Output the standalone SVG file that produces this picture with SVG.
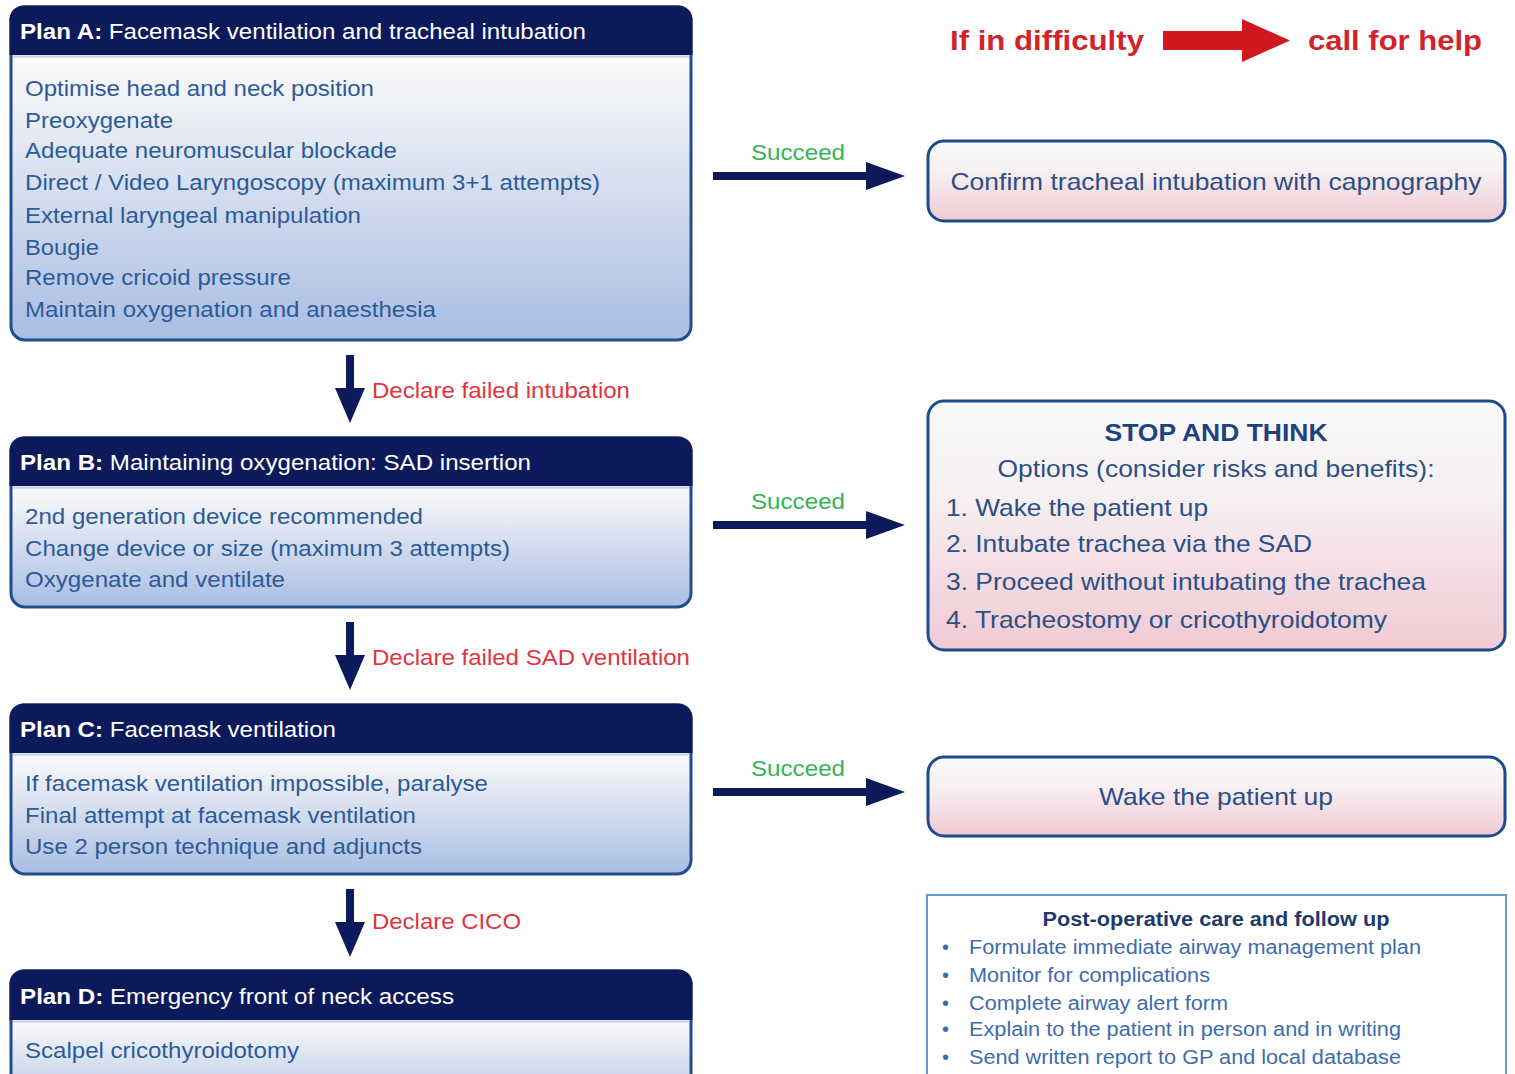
<svg xmlns="http://www.w3.org/2000/svg" width="1515" height="1074" viewBox="0 0 1515 1074">
<style>
text{font-family:"Liberation Sans",Arial,Helvetica,sans-serif}
.hdr{fill:#0c1a5b}
.outline{fill:none;stroke:#1f4e8c;stroke-width:3}
.sep{stroke:#c3d1e8;stroke-width:2}
.ht{fill:#ffffff;font-size:22px}
.ht tspan.b{font-weight:bold}
.bt{fill:#2c5b98;font-size:22px}
.rbox{fill:url(#pink);stroke:#1b4d8d;stroke-width:3}
.rt{fill:#2b4f86;font-size:24px}
.rtb{fill:#1e4280;font-size:24px;font-weight:bold}
.decl{fill:#e0353f;font-size:22px}
.succ{fill:#35b552;font-size:22px}
.navy{fill:#0c1a5b}
.help{fill:#d1232a;font-size:28px;font-weight:bold}
.pt{fill:#1d3a6d;font-size:20px;font-weight:bold}
.pi{fill:#3d6cae;font-size:20px}
</style>
<defs>
<linearGradient id="blue" x1="0" y1="0" x2="0" y2="1">
<stop offset="0" stop-color="#fafafa"/>
<stop offset="0.08" stop-color="#f5f6f8"/>
<stop offset="1" stop-color="#a9bde3"/>
</linearGradient>
<linearGradient id="blueD" x1="0" y1="0" x2="0" y2="1">
<stop offset="0" stop-color="#fafafa"/>
<stop offset="1" stop-color="#b9c9e8"/>
</linearGradient>
<linearGradient id="pink" x1="0" y1="0" x2="0" y2="1">
<stop offset="0" stop-color="#f9f9fa"/>
<stop offset="0.35" stop-color="#f7f1f3"/>
<stop offset="1" stop-color="#f1cad3"/>
</linearGradient>
</defs>

<g id="planA">
<path d="M11,55 H691 V326 A14,14 0 0 1 677,340 H25 A14,14 0 0 1 11,326 Z" fill="url(#blue)"/>
<rect class="outline" x="11" y="7" width="680" height="333" rx="14"/>
<path class="hdr" d="M9.5,55 V21 A14,14 0 0 1 23.5,5.5 H678.5 A14,14 0 0 1 692.5,21 V55 Z"/>
<line class="sep" x1="13" y1="56.5" x2="689" y2="56.5"/>
<text class="ht" x="20" y="39" textLength="566" lengthAdjust="spacingAndGlyphs"><tspan class="b">Plan A:</tspan> Facemask ventilation and tracheal intubation</text>
<text class="bt" x="25" y="96" textLength="349" lengthAdjust="spacingAndGlyphs">Optimise head and neck position</text>
<text class="bt" x="25" y="128" textLength="148" lengthAdjust="spacingAndGlyphs">Preoxygenate</text>
<text class="bt" x="25" y="158" textLength="372" lengthAdjust="spacingAndGlyphs">Adequate neuromuscular blockade</text>
<text class="bt" x="25" y="190" textLength="575" lengthAdjust="spacingAndGlyphs">Direct / Video Laryngoscopy (maximum 3+1 attempts)</text>
<text class="bt" x="25" y="223" textLength="336" lengthAdjust="spacingAndGlyphs">External laryngeal manipulation</text>
<text class="bt" x="25" y="255" textLength="74" lengthAdjust="spacingAndGlyphs">Bougie</text>
<text class="bt" x="25" y="285" textLength="266" lengthAdjust="spacingAndGlyphs">Remove cricoid pressure</text>
<text class="bt" x="25" y="317" textLength="411" lengthAdjust="spacingAndGlyphs">Maintain oxygenation and anaesthesia</text>
</g>

<g id="planB">
<path d="M11,486 H691 V593 A14,14 0 0 1 677,607 H25 A14,14 0 0 1 11,593 Z" fill="url(#blue)"/>
<rect class="outline" x="11" y="438" width="680" height="169" rx="14"/>
<path class="hdr" d="M9.5,486 V452 A14,14 0 0 1 23.5,436.5 H678.5 A14,14 0 0 1 692.5,452 V486 Z"/>
<line class="sep" x1="13" y1="487.5" x2="689" y2="487.5"/>
<text class="ht" x="20" y="470" textLength="511" lengthAdjust="spacingAndGlyphs"><tspan class="b">Plan B:</tspan> Maintaining oxygenation: SAD insertion</text>
<text class="bt" x="25" y="524" textLength="398" lengthAdjust="spacingAndGlyphs">2nd generation device recommended</text>
<text class="bt" x="25" y="556" textLength="485" lengthAdjust="spacingAndGlyphs">Change device or size (maximum 3 attempts)</text>
<text class="bt" x="25" y="587" textLength="260" lengthAdjust="spacingAndGlyphs">Oxygenate and ventilate</text>
</g>

<g id="planC">
<path d="M11,753 H691 V860 A14,14 0 0 1 677,874 H25 A14,14 0 0 1 11,860 Z" fill="url(#blue)"/>
<rect class="outline" x="11" y="705" width="680" height="169" rx="14"/>
<path class="hdr" d="M9.5,753 V719 A14,14 0 0 1 23.5,703.5 H678.5 A14,14 0 0 1 692.5,719 V753 Z"/>
<line class="sep" x1="13" y1="754.5" x2="689" y2="754.5"/>
<text class="ht" x="20" y="737" textLength="316" lengthAdjust="spacingAndGlyphs"><tspan class="b">Plan C:</tspan> Facemask ventilation</text>
<text class="bt" x="25" y="791" textLength="463" lengthAdjust="spacingAndGlyphs">If facemask ventilation impossible, paralyse</text>
<text class="bt" x="25" y="823" textLength="391" lengthAdjust="spacingAndGlyphs">Final attempt at facemask ventilation</text>
<text class="bt" x="25" y="854" textLength="397" lengthAdjust="spacingAndGlyphs">Use 2 person technique and adjuncts</text>
</g>

<g id="planD">
<path d="M11,1020 H691 V1100 H11 Z" fill="url(#blueD)"/>
<rect class="outline" x="11" y="971" width="680" height="140" rx="14"/>
<path class="hdr" d="M9.5,1020 V985 A14,14 0 0 1 23.5,969.5 H678.5 A14,14 0 0 1 692.5,985 V1020 Z"/>
<line class="sep" x1="13" y1="1021.5" x2="689" y2="1021.5"/>
<text class="ht" x="20" y="1004" textLength="434" lengthAdjust="spacingAndGlyphs"><tspan class="b">Plan D:</tspan> Emergency front of neck access</text>
<text class="bt" x="25" y="1058" textLength="274" lengthAdjust="spacingAndGlyphs">Scalpel cricothyroidotomy</text>
</g>

<g id="help">
<text class="help" x="950" y="50" textLength="194" lengthAdjust="spacingAndGlyphs">If in difficulty</text>
<polygon fill="#d0161e" points="1163,31 1242,31 1242,19 1290,40.5 1242,62 1242,50 1163,50"/>
<text class="help" x="1308" y="50" textLength="174" lengthAdjust="spacingAndGlyphs">call for help</text>
</g>

<g id="confirm">
<rect class="rbox" x="928" y="141" width="577" height="80" rx="16"/>
<text class="rt" x="1216" y="190" text-anchor="middle" textLength="531" lengthAdjust="spacingAndGlyphs">Confirm tracheal intubation with capnography</text>
</g>

<g id="stop">
<rect class="rbox" x="928" y="401" width="577" height="249" rx="16"/>
<text class="rtb" x="1216" y="441" text-anchor="middle" textLength="223" lengthAdjust="spacingAndGlyphs">STOP AND THINK</text>
<text class="rt" x="1216" y="477" text-anchor="middle" textLength="437" lengthAdjust="spacingAndGlyphs">Options (consider risks and benefits):</text>
<text class="rt" x="946" y="516" textLength="262" lengthAdjust="spacingAndGlyphs">1. Wake the patient up</text>
<text class="rt" x="946" y="552" textLength="366" lengthAdjust="spacingAndGlyphs">2. Intubate trachea via the SAD</text>
<text class="rt" x="946" y="590" textLength="480" lengthAdjust="spacingAndGlyphs">3. Proceed without intubating the trachea</text>
<text class="rt" x="946" y="628" textLength="441" lengthAdjust="spacingAndGlyphs">4. Tracheostomy or cricothyroidotomy</text>
</g>

<g id="wake">
<rect class="rbox" x="928" y="757" width="577" height="79" rx="16"/>
<text class="rt" x="1216" y="805" text-anchor="middle" textLength="234" lengthAdjust="spacingAndGlyphs">Wake the patient up</text>
</g>

<g id="postop">
<rect x="927" y="895" width="579" height="190" fill="#ffffff" stroke="#5f9bd3" stroke-width="2"/>
<text class="pt" x="1216" y="926" text-anchor="middle" textLength="347" lengthAdjust="spacingAndGlyphs">Post-operative care and follow up</text>
<text class="pi" x="942" y="954">•</text>
<text class="pi" x="969" y="954" textLength="452" lengthAdjust="spacingAndGlyphs">Formulate immediate airway management plan</text>
<text class="pi" x="942" y="982">•</text>
<text class="pi" x="969" y="982" textLength="241" lengthAdjust="spacingAndGlyphs">Monitor for complications</text>
<text class="pi" x="942" y="1010">•</text>
<text class="pi" x="969" y="1010" textLength="259" lengthAdjust="spacingAndGlyphs">Complete airway alert form</text>
<text class="pi" x="942" y="1036">•</text>
<text class="pi" x="969" y="1036" textLength="432" lengthAdjust="spacingAndGlyphs">Explain to the patient in person and in writing</text>
<text class="pi" x="942" y="1064">•</text>
<text class="pi" x="969" y="1064" textLength="432" lengthAdjust="spacingAndGlyphs">Send written report to GP and local database</text>
</g>

<g id="connectors">
<polygon class="navy" points="346,355 354,355 354,388 365,388 350,423 335,388 346,388"/>
<text class="decl" x="372" y="398" textLength="258" lengthAdjust="spacingAndGlyphs">Declare failed intubation</text>
<polygon class="navy" points="346,622 354,622 354,655 365,655 350,690 335,655 346,655"/>
<text class="decl" x="372" y="665" textLength="318" lengthAdjust="spacingAndGlyphs">Declare failed SAD ventilation</text>
<polygon class="navy" points="346,889 354,889 354,922 365,922 350,957 335,922 346,922"/>
<text class="decl" x="372" y="929" textLength="149" lengthAdjust="spacingAndGlyphs">Declare CICO</text>

<polygon class="navy" points="713,172 866,172 866,162 905,176 866,190 866,180 713,180"/>
<text class="succ" x="751" y="160" textLength="94" lengthAdjust="spacingAndGlyphs">Succeed</text>
<polygon class="navy" points="713,521 866,521 866,511 905,525 866,539 866,529 713,529"/>
<text class="succ" x="751" y="509" textLength="94" lengthAdjust="spacingAndGlyphs">Succeed</text>
<polygon class="navy" points="713,788 866,788 866,778 905,792 866,806 866,796 713,796"/>
<text class="succ" x="751" y="776" textLength="94" lengthAdjust="spacingAndGlyphs">Succeed</text>
</g>
</svg>
